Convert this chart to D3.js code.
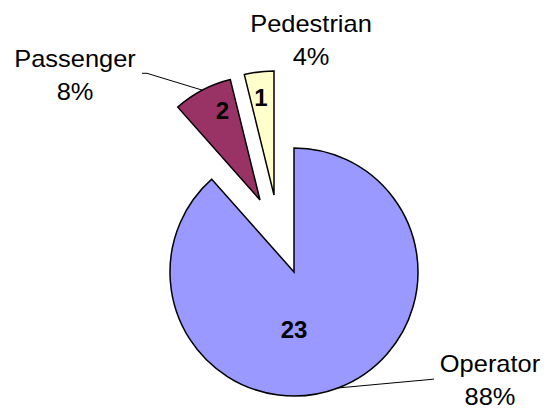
<!DOCTYPE html>
<html>
<head>
<meta charset="utf-8">
<script src="https://cdn.jsdelivr.net/npm/d3@7"></script>
<style>
  body { margin: 0; background: white; }
  text { font-family: "Liberation Sans", Arial, sans-serif; }
</style>
</head>
<body>
<svg width="548" height="411"></svg>
<script>
const categories = ['Operator', 'Passenger', 'Pedestrian']
const counts = [23, 2, 1]
const percentLabels = ['88%', '8%', '4%']
const colors = ['#9999FF', '#993366', '#FFFFCC']

const svg = d3.select('svg')
const width = +svg.attr('width')
const height = +svg.attr('height')

const cx = 294, cy = 272, radius = 124

// how far each slice is pulled out (Excel explosion), dx/dy in px
const explode = [[0, 0], [-34, -72], [-20, -77]]
// value label position relative to each slice's apex
const valueOffset = [[0, 57], [-37.5, -90], [-13, -97.5]]
// outside category label anchors (centre x, first baseline)
const labelAnchor = [[490, 372], [75, 67], [311, 32]]
// where the leader line meets the label
const leaderEnd = [[[430, 379.5], [434, 379]], [[147, 73.3], [142, 73.3]], null]

const data = categories.map((c, i) => ({ name: c, value: counts[i], pct: percentLabels[i], color: colors[i], idx: i }))

const pie = d3.pie().value(d => d.value).sort(null)
const arc = d3.arc().innerRadius(0).outerRadius(radius)
const arcs = pie(data)

const g = svg.append('g').attr('transform', `translate(${cx},${cy})`)

const slices = g.selectAll('g.slice')
  .data(arcs)
  .enter()
  .append('g')
  .attr('class', 'slice')
  .attr('transform', d => `translate(${explode[d.data.idx][0]},${explode[d.data.idx][1]})`)

slices.append('path')
  .attr('d', arc)
  .attr('fill', d => d.data.color)
  .attr('stroke', 'black')
  .attr('stroke-width', 1.5)
  .attr('stroke-linejoin', 'miter')

slices.append('text')
  .attr('x', d => valueOffset[d.data.idx][0])
  .attr('y', d => valueOffset[d.data.idx][1])
  .attr('dy', '0.36em')
  .attr('text-anchor', 'middle')
  .attr('font-size', 24)
  .attr('font-weight', 'bold')
  .text(d => d.data.value)

// leader lines from the arc midpoint
arcs.forEach(d => {
  const i = d.data.idx
  if (!leaderEnd[i]) return
  const mid = (d.startAngle + d.endAngle) / 2
  const x0 = cx + explode[i][0] + radius * Math.sin(mid)
  const y0 = cy + explode[i][1] - radius * Math.cos(mid)
  const pts = [[x0, y0]].concat(leaderEnd[i])
  svg.append('path')
    .attr('d', d3.line()(pts))
    .attr('fill', 'none')
    .attr('stroke', 'black')
    .attr('stroke-width', 1)
})

const labels = svg.selectAll('text.cat')
  .data(data)
  .enter()
  .append('text')
  .attr('class', 'cat')
  .attr('text-anchor', 'middle')
  .attr('font-size', 24)
  .attr('transform', d => `translate(${labelAnchor[d.idx][0]},${labelAnchor[d.idx][1]}) scale(1.06,1)`)

labels.append('tspan').attr('x', 0).attr('y', 0).text(d => d.name)
labels.append('tspan').attr('x', 0).attr('y', 33.5).text(d => d.pct)
</script>
</body>
</html>
